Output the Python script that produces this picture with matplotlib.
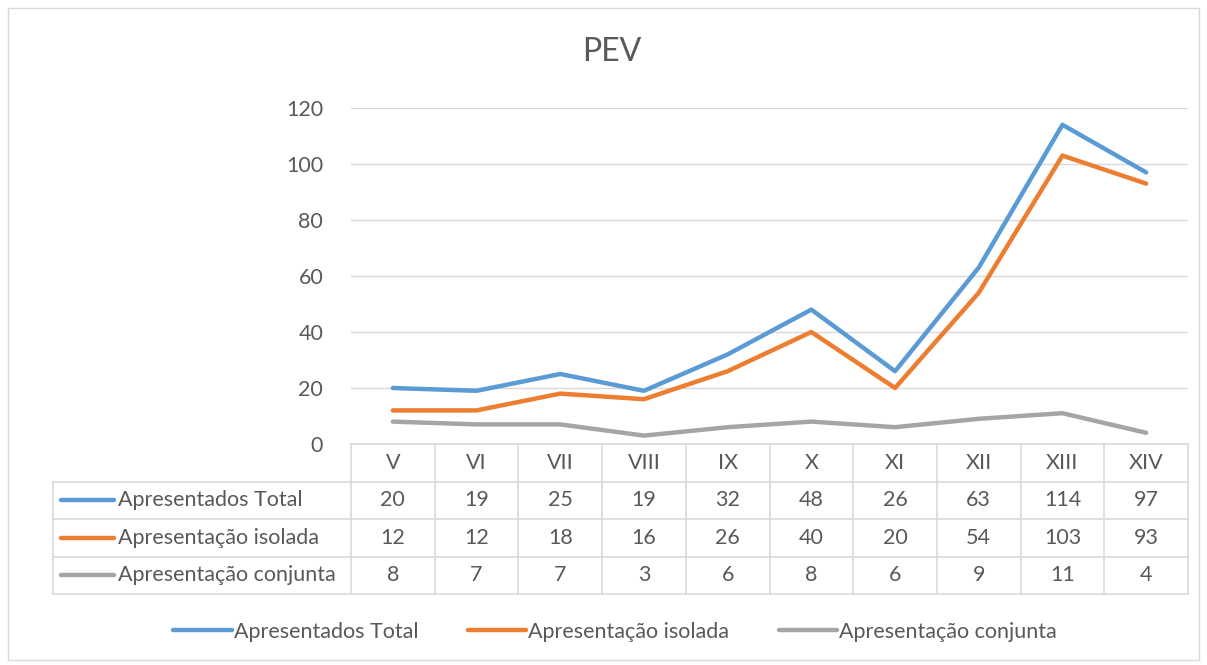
import matplotlib.pyplot as plt
from matplotlib.lines import Line2D

plt.rcParams['font.family'] = ['Lato', 'DejaVu Sans']

# data
categories = ['V', 'VI', 'VII', 'VIII', 'IX', 'X', 'XI', 'XII', 'XIII', 'XIV']
series_names = ['Apresentados Total', 'Apresentação isolada', 'Apresentação conjunta']
total = [20, 19, 25, 19, 32, 48, 26, 63, 114, 97]
isolada = [12, 12, 18, 16, 26, 40, 20, 54, 103, 93]
conjunta = [8, 7, 7, 3, 6, 8, 6, 9, 11, 4]
colors = ['#5B9BD5', '#ED7D31', '#A5A5A5']

W, H = 1207, 665
txt = '#595959'
grid = '#D9D9D9'
fs = 15.5

fig = plt.figure(figsize=(W / 100, H / 100), dpi=100)


def fx(x):
    return x / W


def fy(y):
    return 1 - y / H


# outer chart border
fig.add_artist(plt.Rectangle((fx(8), fy(660)), fx(1191), 652 / H, fill=False,
                             edgecolor=grid, lw=1, transform=fig.transFigure))

# plot area
left, right, top, bot = 351, 1188, 108, 444
ax = fig.add_axes([fx(left), fy(bot), fx(right - left), (bot - top) / H])
x = list(range(len(categories)))
for vals, c, n in zip([total, isolada, conjunta], colors, series_names):
    ax.plot(x, vals, color=c, lw=3.2, label=n, solid_capstyle='round', solid_joinstyle='round')
ax.set_xlim(-0.5, len(categories) - 0.5)
ax.set_ylim(0, 120)
ax.set_yticks(range(0, 121, 20))
ax.yaxis.grid(True, color=grid, lw=1)
ax.set_axisbelow(True)
for s in ax.spines.values():
    s.set_visible(False)
ax.tick_params(axis='y', length=0, labelsize=fs, labelcolor=txt, pad=20)
ax.set_xticks([])
fig.text(fx(612), fy(52), 'PEV', ha='center', va='center', fontsize=23, color=txt)

# data table
row_h = 37.5
col_w = (right - left) / len(categories)
tl = 53
tb = bot + row_h * 4
lk = dict(color=grid, lw=1.2, transform=fig.transFigure)
# horizontal lines
fig.add_artist(Line2D([fx(left), fx(right)], [fy(bot), fy(bot)], **lk))
for r in range(1, 5):
    yy = bot + row_h * r
    fig.add_artist(Line2D([fx(tl), fx(right)], [fy(yy), fy(yy)], **lk))
# vertical lines
fig.add_artist(Line2D([fx(tl), fx(tl)], [fy(bot + row_h), fy(tb)], **lk))
for i in range(len(categories) + 1):
    xx = left + col_w * i
    fig.add_artist(Line2D([fx(xx), fx(xx)], [fy(bot), fy(tb)], **lk))

# header
for i, cat in enumerate(categories):
    fig.text(fx(left + col_w * (i + 0.5)), fy(bot + row_h * 0.5), cat, ha='center', va='center',
             fontsize=fs, color=txt)
# rows
for r, (vals, c, n) in enumerate(zip([total, isolada, conjunta], colors, series_names)):
    yc = bot + row_h * (r + 1.5)
    fig.add_artist(Line2D([fx(61), fx(114)], [fy(yc), fy(yc)], color=c, lw=3.2,
                          solid_capstyle='round', transform=fig.transFigure))
    fig.text(fx(118), fy(yc), n, ha='left', va='center', fontsize=fs, color=txt)
    for i, v in enumerate(vals):
        fig.text(fx(left + col_w * (i + 0.5)), fy(yc), str(v), ha='center', va='center',
                 fontsize=fs, color=txt)

# legend
fig.legend(loc='center', bbox_to_anchor=(fx(615), fy(632)), ncol=3, frameon=False,
           fontsize=fs, labelcolor=txt, handlelength=2.7, handletextpad=0.1, columnspacing=2.3)

fig.savefig('out.png', dpi=100)
